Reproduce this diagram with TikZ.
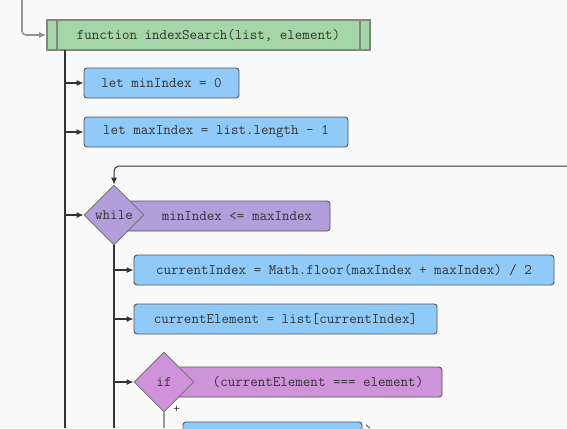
\documentclass[tikz,border=0pt]{standalone}
\usepackage{fontspec}
\setsansfont{Liberation Sans}
\usetikzlibrary{arrows.meta,shapes.geometric}
\definecolor{bg}{HTML}{F9F9F9}
\definecolor{fngreen}{HTML}{A5D6A7}
\definecolor{fnborder}{HTML}{7E8A7E}
\definecolor{stblue}{HTML}{90CAF9}
\definecolor{whilepurple}{HTML}{B39DDB}
\definecolor{ifpurple}{HTML}{CE93D8}
\definecolor{edge}{HTML}{555555}
\definecolor{txt}{HTML}{333333}
\tikzset{
  codetext/.style={font=\ttfamily\fontsize{14.6}{16}\selectfont, text=txt},
  stmt/.style={codetext, draw=edge, line width=0.9pt, fill=stblue, rounded corners=3pt, minimum height=30pt, inner sep=0pt},
  fnbox/.style={codetext, draw=fnborder, line width=1.6pt, fill=fngreen, minimum height=30pt, inner sep=0pt},
  condbox/.style={codetext, draw=edge, line width=0.9pt, rounded corners=3pt, minimum height=30pt, inner sep=0pt},
  decision/.style={codetext, diamond, draw=edge!80, line width=0.9pt, minimum width=60pt, minimum height=60pt, inner sep=0pt},
  flow/.style={draw=txt, line width=1.2pt},
  arr/.style={flow, -{Latex[length=7pt,width=6pt]}},
}
\begin{document}
\begin{tikzpicture}[x=1pt,y=-1pt]
\clip (0,0) rectangle (567,428);
\fill[bg] (0,0) rectangle (567,428);

% function header
\node[fnbox, minimum width=323pt] (fn) at (208.5,35) {function indexSearch(list, element)};
\draw[fnborder, line width=1.6pt] (57,20) -- (57,50) (360,20) -- (360,50);
\coordinate (top) at (22,0);
\draw[draw=gray!85, line width=1.6pt, rounded corners=4pt, -{Latex[length=7pt,width=6pt]}] (top) |- (fn.west);

% main spine
\coordinate (spineTop) at (65,50);
\coordinate (spineBot) at (65,428);
\draw[flow] (spineTop) -- (spineBot);

\node[stmt, minimum width=155pt] (n1) at (161.5,83) {let minIndex = 0};
\node[stmt, minimum width=264pt] (n2) at (216,132) {let maxIndex = list.length - 1};
\draw[arr] (65,83) -- (n1.west);
\draw[arr] (65,132) -- (n2.west);

% while
\node[condbox, fill=whilepurple, minimum width=216pt] (wr) at (222,216) {\hspace*{30pt}minIndex <= maxIndex};
\node[decision, fill=whilepurple] (wd) at (114,215) {while};
\draw[arr] (65,215) -- (wd.west);
\coordinate (loopStart) at (567,166);
\draw[flow, line width=1pt, rounded corners=5pt, -{Latex[length=7pt,width=6pt]}] (loopStart) -| (wd.north);

% while body spine
\coordinate (wBot) at (114,428);
\draw[flow] (wd.south) -- (wBot);

\node[stmt, minimum width=420pt] (ci) at (344,270) {currentIndex = Math.floor(maxIndex + maxIndex) / 2};
\node[stmt, minimum width=303pt] (ce) at (285.5,319) {currentElement = list[currentIndex]};
\draw[arr] (114,270) -- (ci.west);
\draw[arr] (114,319) -- (ce.west);

% if
\node[condbox, fill=ifpurple, minimum width=278pt] (ir) at (303,382) {\hspace*{30pt}(currentElement === element)};
\node[decision, fill=ifpurple] (id) at (164,382) {if};
\draw[arr] (114,382) -- (id.west);
\node[font=\sffamily\fontsize{11}{12}\selectfont, text=txt] (plus) at (176.5,409.5) {+};
\coordinate (iBot) at (164,428);
\draw[draw=gray!80, line width=1.6pt] (id.south) -- (iBot);

% next statement (cut off)
\node[stmt, minimum width=179pt] (nx) at (272.5,437) {};
\coordinate (nxA) at (366,425);
\coordinate (nxB) at (370,428);
\draw[draw=edge, line width=0.9pt] (nxA) -- (nxB);
\end{tikzpicture}
\end{document}
